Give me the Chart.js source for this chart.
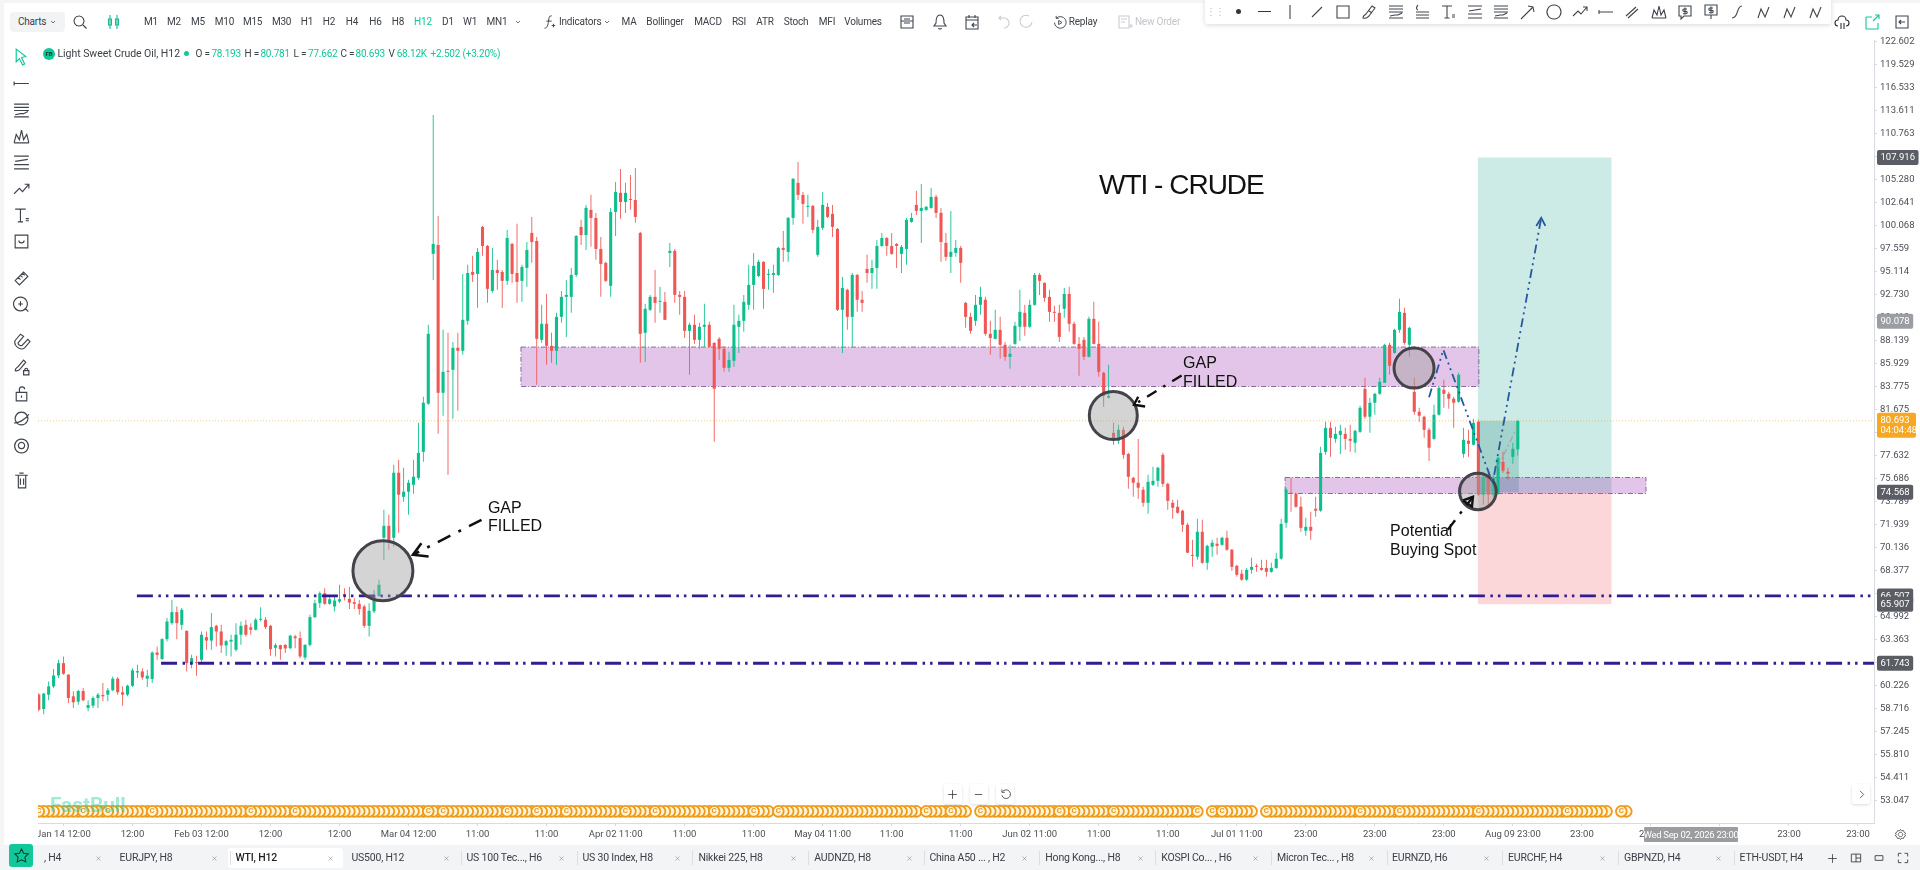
<!DOCTYPE html>
<html>
<head>
<meta charset="utf-8">
<title>WTI - CRUDE</title>
<script src="https://cdn.jsdelivr.net/npm/chart.js@4"></script>
<style>
html, body { margin: 0; padding: 0; width: 1920px; height: 870px; overflow: hidden; background: #f5f5f6; font-family: Roboto, sans-serif; color: #3c4048; }
#stage { position: absolute; left: 4px; top: 3px; width: 1916px; height: 867px; background: #fff; }
#chart { position: absolute; left: 0; top: 0; z-index: 1; }
.panel { position: absolute; z-index: 2; }
.t { position: absolute; z-index: 5; white-space: nowrap; font-size: 10px; letter-spacing: -.2px; transform: translate(-50%, -50%); line-height: 1; }
.l { transform: translate(0, -50%); }
.i { position: absolute; z-index: 5; fill: none; stroke: #3f444c; stroke-width: 1.1; }
</style>
</head>
<body>
<div id="stage"></div>
<canvas id="chart" width="1920" height="870"></canvas>
<script>
"use strict";

// candles, index 0 is the first one at the left edge
const opens = [
    59.64, 58.70, 59.64, 60.19, 60.92, 61.75, 60.97, 59.53, 59.18, 59.88,
    58.77, 58.92, 59.42, 59.62, 59.64, 59.93, 60.70, 59.80, 59.64, 60.23,
    61.12, 61.19, 60.70, 60.68, 62.48, 62.03, 63.41, 64.54, 65.33, 64.42,
    64.00, 61.68, 61.79, 61.98, 63.55, 63.31, 64.35, 63.95, 62.97, 63.24,
    62.67, 63.72, 64.42, 64.24, 64.07, 64.78, 64.78, 64.35, 62.81, 62.99,
    63.01, 62.78, 63.60, 63.48, 62.14, 63.01, 64.97, 65.98, 66.71, 65.93,
    65.74, 66.10, 66.66, 66.29, 66.05, 65.93, 65.74, 64.35, 65.38, 66.51,
    70.92, 71.86, 70.92, 76.20, 74.20, 74.62, 75.19, 75.77, 77.98, 82.23,
    97.03, 97.99, 83.23, 85.27, 85.37, 87.47, 87.18, 90.11, 95.11, 94.9,
    99.96, 97.88, 93.14, 95.32, 95.11, 94.18, 98.1, 95.0, 94.18, 95.53,
    99.3, 98.42, 88.24, 89.82, 87.66, 87.18, 90.51, 92.53, 92.53, 94.8,
    99.96, 99.07, 101.86, 100.96, 97.56, 96.07, 93.66, 101.63, 103.79, 102.75,
    103.1, 102.98, 99.3, 88.93, 91.22, 92.53, 92.02, 92.02, 97.13, 97.35,
    92.73, 92.53, 89.12, 89.72, 88.24, 89.52, 89.72, 87.95, 88.34, 87.37,
    85.56, 86.22, 89.52, 90.11, 91.72, 93.76, 94.69, 96.18, 94.8, 94.8,
    94.8, 97.67, 97.24, 100.96, 104.94, 103.56, 102.2, 102.31, 96.93, 99.85,
    102.2, 101.41, 99.74, 91.22, 93.25, 90.51, 94.8, 92.23, 95.43, 95.0,
    95.53, 97.88, 98.74, 97.88, 98.1, 97.03, 97.56, 100.52, 102.42, 101.74,
    101.86, 102.08, 103.33, 101.52, 98.21, 96.71, 97.13, 97.67, 91.92, 90.51,
    90.11, 91.72, 92.23, 88.83, 88.34, 89.22, 87.76, 86.6, 87.85, 89.52,
    90.91, 89.52, 91.72, 94.8, 93.97, 92.53, 91.01, 90.91, 91.32, 92.83,
    89.82, 87.85, 88.24, 86.6, 90.31, 87.85, 85.09, 82.78, 79.63, 78.94,
    79.9, 77.8, 75.77, 75.36, 74.78, 73.71, 75.19, 75.52, 77.72, 75.27,
    73.71, 73.39, 73.07, 71.94, 69.6, 69.45, 71.39, 68.99, 70.22, 70.45,
    70.37, 70.92, 69.99, 68.76, 68.16, 67.71, 68.45, 68.76, 68.6, 68.6,
    68.3, 68.6, 69.3, 72.1, 74.53, 74.45, 73.39, 71.47, 71.78, 73.23,
    73.07, 77.98, 80.07, 79.1, 79.45, 79.54, 79.1, 78.76, 79.72, 83.6,
    81.06, 82.32, 83.14, 84.15, 87.76, 86.98, 89.22, 90.91, 87.76, 83.32,
    81.5, 81.06, 79.9, 79.1, 81.24, 83.51, 83.14, 82.69, 82.41, 77.8,
    78.94, 78.59, 80.61, 74.37, 75.86, 74.37, 74.45, 77.12, 76.28, 77.55,
    78.193
];
const highs = [
    59.75, 59.75, 60.52, 61.35, 61.98, 62.21, 61.0, 59.86, 59.97, 60.08,
    59.27, 59.53, 59.75, 60.41, 60.08, 60.85, 60.81, 60.19, 60.30, 61.41,
    61.64, 61.41, 61.30, 62.55, 62.90, 63.48, 64.90, 66.22, 65.74, 65.62,
    64.00, 62.32, 62.25, 63.95, 63.95, 65.26, 64.42, 64.42, 63.36, 63.72,
    64.54, 64.66, 64.78, 64.54, 64.90, 65.69, 64.97, 64.42, 63.13, 63.01,
    63.05, 63.72, 63.72, 63.95, 63.05, 65.14, 66.22, 66.83, 67.08, 66.46,
    66.59, 67.33, 67.08, 67.16, 66.34, 66.22, 65.86, 65.98, 66.96, 67.71,
    73.15, 72.74, 76.87, 77.29, 76.62, 75.61, 77.29, 80.52, 82.87, 89.72,
    113.1, 101.18, 89.22, 88.93, 88.04, 88.93, 94.90, 95.86, 96.82, 97.67,
    100.07, 97.99, 97.67, 96.39, 95.32, 99.63, 98.21, 100.3, 95.86, 98.31,
    101.07, 98.85, 91.72, 92.83, 88.93, 90.91, 93.14, 94.28, 95.53, 99.07,
    100.74, 102.42, 103.56, 101.52, 98.85, 96.18, 102.08, 105.05, 106.57, 104.94,
    105.86, 106.68, 99.4, 91.82, 92.73, 95.32, 93.56, 93.04, 98.21, 97.56,
    93.14, 93.14, 89.92, 90.71, 89.92, 91.82, 90.01, 88.0, 88.53, 87.56,
    87.08, 91.72, 90.71, 92.73, 95.86, 97.13, 96.39, 96.25, 95.43, 95.86,
    97.78, 99.52, 101.07, 105.51, 107.4, 103.9, 103.56, 102.42, 100.74, 103.9,
    102.64, 102.42, 99.85, 94.59, 93.35, 95.0, 94.9, 93.14, 96.93, 96.39,
    98.53, 99.3, 98.85, 99.3, 98.21, 97.99, 100.96, 101.52, 104.02, 104.82,
    102.3, 104.36, 103.56, 102.08, 99.3, 101.74, 98.53, 97.88, 92.0, 90.91,
    92.73, 93.56, 92.53, 90.11, 91.22, 90.51, 88.04, 87.76, 90.01, 93.25,
    91.72, 92.23, 95.0, 95.0, 94.0, 93.25, 91.62, 91.72, 93.45, 93.56,
    90.01, 88.53, 88.53, 90.51, 92.02, 90.01, 85.18, 85.84, 80.52, 80.34,
    80.16, 77.89, 75.86, 79.1, 75.03, 76.03, 76.7, 76.7, 77.89, 75.36,
    73.95, 73.95, 73.15, 72.1, 70.76, 72.42, 72.34, 70.37, 70.76, 70.92,
    71.0, 71.47, 70.05, 68.84, 68.45, 68.6, 69.37, 68.91, 69.22, 69.22,
    68.99, 69.76, 72.42, 74.95, 75.77, 74.53, 74.2, 72.5, 72.98, 74.2,
    78.41, 80.61, 80.61, 80.16, 80.34, 80.07, 80.34, 79.9, 82.05, 84.62,
    82.78, 83.23, 84.62, 87.85, 87.95, 89.32, 92.33, 91.42, 89.52, 84.62,
    81.86, 81.15, 80.07, 82.14, 83.78, 84.43, 83.32, 82.87, 85.09, 80.07,
    79.9, 80.88, 80.79, 76.28, 76.2, 75.94, 77.55, 77.98, 76.62, 78.76,
    80.781
];
const lows = [
    58.55, 58.37, 59.27, 60.08, 60.74, 60.97, 59.09, 58.77, 58.98, 59.20,
    58.55, 58.77, 58.77, 59.20, 59.20, 59.86, 59.64, 58.92, 59.53, 60.15,
    60.74, 60.63, 60.15, 60.41, 61.98, 61.98, 63.24, 64.42, 63.41, 64.07,
    61.19, 61.41, 60.90, 61.75, 62.67, 62.67, 62.90, 62.44, 62.25, 62.21,
    62.55, 63.01, 63.60, 63.72, 64.02, 64.66, 64.12, 62.25, 62.21, 61.98,
    62.44, 62.71, 62.78, 62.09, 61.98, 62.90, 64.90, 65.62, 65.86, 65.86,
    65.38, 65.98, 66.17, 65.55, 65.55, 65.14, 64.19, 63.60, 65.26, 66.46,
    69.22, 69.99, 70.22, 71.31, 73.79, 72.74, 74.45, 75.61, 77.12, 82.14,
    94.28, 79.54, 81.15, 76.03, 80.88, 81.59, 86.79, 89.72, 94.07, 91.42,
    96.82, 91.92, 92.94, 93.25, 91.42, 93.76, 93.97, 91.92, 92.02, 93.56,
    96.07, 83.97, 87.95, 85.84, 86.03, 85.84, 89.92, 88.53, 90.91, 94.59,
    97.99, 97.45, 97.78, 96.39, 92.53, 94.07, 92.53, 98.96, 100.85, 101.52,
    101.86, 100.41, 86.03, 86.12, 91.1, 89.92, 90.91, 90.21, 95.64, 91.92,
    90.71, 88.43, 84.90, 87.85, 87.37, 87.56, 87.5, 78.85, 86.31, 85.18,
    85.18, 85.65, 86.98, 89.03, 91.22, 91.22, 94.59, 91.32, 93.25, 92.94,
    94.69, 96.18, 96.18, 100.19, 102.98, 100.3, 101.07, 99.3, 96.71, 99.63,
    100.96, 98.85, 91.1, 86.98, 89.22, 87.56, 91.01, 91.01, 93.97, 93.35,
    93.35, 97.78, 96.82, 96.93, 95.53, 95.0, 95.86, 100.41, 101.29, 98.21,
    101.74, 101.97, 100.96, 96.18, 96.29, 95.0, 96.71, 93.97, 89.42, 88.83,
    89.62, 90.71, 88.63, 86.79, 88.3, 86.41, 86.22, 85.46, 87.76, 88.14,
    88.63, 89.42, 91.62, 92.73, 92.02, 90.01, 90.01, 88.04, 90.41, 89.03,
    87.76, 84.81, 86.31, 86.55, 87.8, 84.71, 81.95, 82.7, 78.59, 78.67,
    77.38, 74.87, 74.2, 74.04, 73.39, 72.82, 75.1, 75.03, 75.03, 73.15,
    72.42, 72.82, 71.39, 69.72, 68.68, 69.22, 68.91, 68.45, 69.45, 69.6,
    70.29, 69.91, 68.38, 67.93, 67.63, 67.63, 68.16, 68.3, 68.38, 67.93,
    68.23, 68.53, 69.22, 71.7, 72.98, 73.31, 71.39, 71.08, 70.76, 72.58,
    72.98, 77.72, 77.55, 78.76, 77.8, 78.15, 77.98, 77.89, 79.63, 80.88,
    79.63, 81.24, 83.05, 84.15, 84.9, 86.89, 88.93, 87.76, 86.6, 81.24,
    80.61, 79.19, 77.2, 79.02, 81.15, 81.86, 81.77, 80.07, 82.32, 77.46,
    77.55, 78.55, 74.29, 73.55, 73.31, 74.2, 74.37, 76.2, 75.61, 76.95,
    77.662
];
const closes = [
    58.66, 59.71, 60.19, 60.92, 61.75, 61.03, 59.42, 59.14, 59.88, 59.27,
    58.96, 59.42, 59.64, 59.53, 59.93, 60.70, 59.80, 59.64, 60.23, 61.26,
    61.21, 60.79, 60.90, 62.48, 62.32, 63.41, 64.66, 65.33, 64.54, 65.50,
    61.75, 62.09, 61.75, 63.72, 63.31, 64.26, 63.95, 62.97, 63.27, 63.36,
    63.72, 64.35, 63.72, 64.07, 64.78, 64.83, 64.26, 62.71, 62.99, 62.71,
    62.76, 63.65, 63.48, 62.21, 63.01, 64.97, 65.98, 66.71, 65.93, 66.27,
    66.17, 66.27, 66.51, 66.02, 65.93, 65.55, 64.35, 65.43, 66.59, 67.33,
    71.86, 70.76, 76.20, 74.37, 74.62, 75.36, 75.86, 77.89, 82.32, 88.83,
    98.1, 83.23, 85.18, 85.18, 87.47, 87.18, 90.21, 95.0, 94.8, 97.24,
    97.88, 93.35, 95.32, 95.0, 94.18, 98.74, 94.9, 94.07, 95.64, 97.45,
    98.31, 88.34, 89.82, 87.66, 87.18, 90.51, 92.53, 92.73, 94.8, 98.96,
    99.07, 102.08, 100.96, 97.56, 95.96, 94.18, 101.63, 103.9, 102.75, 103.79,
    102.98, 101.07, 88.83, 91.32, 92.53, 91.92, 92.12, 90.21, 97.35, 92.73,
    92.53, 89.12, 89.72, 88.24, 89.52, 89.72, 87.56, 83.6, 87.37, 85.56,
    86.31, 89.72, 90.11, 92.02, 93.76, 95.75, 96.18, 93.35, 94.9, 95.0,
    97.67, 97.45, 100.96, 105.4, 103.56, 102.53, 102.31, 99.63, 99.96, 102.42,
    101.07, 99.96, 91.22, 93.45, 90.51, 94.8, 92.23, 91.92, 95.0, 95.53,
    97.88, 98.74, 97.88, 97.03, 97.88, 97.78, 100.74, 100.96, 101.74, 102.08,
    102.2, 103.33, 101.52, 98.31, 96.71, 97.24, 97.67, 96.07, 90.51, 89.12,
    91.72, 92.53, 88.83, 88.43, 89.22, 87.76, 86.6, 86.89, 89.62, 91.01,
    89.52, 91.72, 94.8, 94.18, 92.43, 91.01, 90.91, 88.53, 92.83, 89.82,
    87.85, 87.37, 86.6, 90.31, 87.85, 85.18, 82.96, 82.96, 79.02, 79.9,
    77.72, 75.86, 75.36, 74.95, 73.71, 75.44, 75.52, 76.62, 75.27, 73.87,
    73.31, 72.9, 71.94, 69.76, 69.52, 71.39, 68.99, 70.29, 70.53, 70.29,
    70.92, 69.99, 68.68, 68.08, 67.71, 68.45, 68.68, 68.68, 68.45, 68.3,
    68.6, 69.3, 72.02, 74.78, 74.45, 73.39, 71.7, 71.78, 71.47, 73.07,
    77.89, 80.07, 79.19, 79.54, 79.81, 79.1, 78.94, 79.81, 81.86, 81.06,
    82.32, 83.14, 84.25, 87.76, 85.75, 89.22, 91.01, 87.95, 89.42, 81.5,
    81.15, 79.9, 78.33, 81.24, 83.69, 83.14, 82.69, 82.32, 84.9, 79.02,
    78.67, 80.52, 74.37, 75.86, 74.37, 75.77, 77.46, 76.37, 76.12, 78.24,
    80.693
];

// axes
const yTicks = [122.602, 119.529, 116.533, 113.611, 110.763, 107.99, 105.280, 102.641, 100.068, 97.559, 95.114, 92.730, 90.41, 88.139, 85.929, 83.775, 81.675, 79.63, 77.632, 75.686, 73.789, 71.939, 70.136, 68.377, 66.66, 64.992, 63.363, 61.77, 60.226, 58.716, 57.245, 55.810, 54.411, 53.047];
const xTickIdx = [5, 19, 33, 47, 61, 75, 89, 103, 117, 131, 145, 159, 173, 187, 201, 215, 229, 243, 257, 271, 285, 299, 313, 327, 341, 355, 369];
const xTickLabels = ["Jan 14 12:00", "12:00", "Feb 03 12:00", "12:00", "12:00", "Mar 04 12:00", "11:00", "11:00", "Apr 02 11:00", "11:00", "11:00", "May 04 11:00", "11:00", "11:00", "Jun 02 11:00", "11:00", "11:00", "Jul 01 11:00", "23:00", "23:00", "23:00", "Aug 09 23:00", "23:00", "23:00", "23:00", "23:00", "23:00"];

// drawings, all in candle index / price
const zoneFrom = [97.8, 252.8];
const zoneTo = [292.1, 326];
const zoneTop = [87.54, 75.8];
const zoneBottom = [83.81, 74.47];
const targetPrice = 107.916;
const entryPrice = 74.568;
const stopPrice = 65.907;
const lastPrice = 80.693;
const positionFrom = 291.9;
const positionTo = 319;
const positionNow = 300;
const levelPrices = [66.507, 61.743];
const levelStarts = [19.9, 24.8];
const circleIdx = [69.8, 217.95, 278.95, 291.9];
const circlePrices = [68.38, 81.17, 85.53, 74.64];
const gapArrow1X = [89.8, 75.9];
const gapArrow1Y = [72.34, 69.6];
const gapHead1X = [77.6, 75.9, 79.07];
const gapHead1Y = [70.5, 69.6, 69.47];
const gapArrow2X = [231.8, 222.15];
const gapArrow2Y = [84.84, 82.14];
const gapHead2X = [223.0, 222.15, 224.4];
const gapHead2Y = [82.87, 82.14, 81.98];
const buyArrowX = [285.8, 290.9];
const buyArrowY = [71.55, 74.2];
const buyHeadX = [288.9, 290.9, 290.7, 288.9];
const buyHeadY = [73.9, 74.2, 73.4, 73.9];
const pathX = [282, 284.9, 294.9, 304.75];
const pathY = [82.83, 87.27, 75.33, 100.96];
const pathHeadX = [303.75, 304.75, 305.6];
const pathHeadY = [100.07, 100.96, 100.07];
const greyX = [294.7, 299.8];
const greyY = [75.61, 80.07];
const noteTexts = ["WTI - CRUDE", "GAP", "FILLED", "GAP", "FILLED", "Potential", "Buying Spot"];
const noteIdx = [215.05, 91.1, 91.1, 232.1, 232.1, 274.1, 274.1];
const notePrices = [104.59, 73.23, 71.78, 85.93, 84.18, 71.39, 69.91];
const tagPrices = [107.916, 90.078, 66.507, 65.907, 61.743, 74.568];
const tagColors = ["#5a5d63", "#9a9da2", "#5a5d63", "#5a5d63", "#5a5d63", "#5a5d63"];

// calendar events row, runs of candle indexes
const eventRuns = [[0, 8], [9, 13], [14, 22], [23, 42], [43, 51], [52, 78], [79, 81], [82, 94], [95, 100], [101, 106], [107, 118], [119, 124], [125, 136], [137, 144], [145, 148], [150, 178], [180, 184], [185, 188], [191, 206], [207, 209], [210, 217], [218, 234], [235, 235], [238, 239], [240, 246], [249, 267], [268, 275], [276, 291], [292, 309], [310, 318], [321, 322]];
const eventPrice = 52.43;

const xMin = -0.162;
const xMax = 372.25;
const yMin = 51.76;
const yMax = 122.87;

const UP = "#0dbf8c";
const DOWN = "#ef5654";
const candleIdx = opens.map((_, i) => i);
const candleColors = candleIdx.map(i => closes[i] >= opens[i] ? UP : DOWN);

const pairs = (xs, ys) => xs.map((x, i) => ({x: x, y: ys[i]}));

function pathSet(xs, ys, color, width, dash, order) {
    return {
        type: 'line',
        data: pairs(xs, ys),
        borderColor: color,
        borderWidth: width,
        borderDash: dash,
        pointRadius: 0,
        tension: 0,
        fill: false,
        order: order
    };
}

let eventPoints = [];
eventRuns.forEach(run => {
    for (let i = run[1]; i >= run[0]; i--) {
        eventPoints.push({x: i, y: eventPrice});
    }
});

const drawings = {
    id: 'drawings',
    beforeDatasetsDraw(chart) {
        const {ctx, chartArea: a, scales: {x, y}} = chart;
        const box = (x0, x1, top, bottom, color) => {
            ctx.fillStyle = color;
            ctx.fillRect(x.getPixelForValue(x0), y.getPixelForValue(top), x.getPixelForValue(x1) - x.getPixelForValue(x0), y.getPixelForValue(bottom) - y.getPixelForValue(top));
        };
        ctx.save();
        ctx.beginPath();
        ctx.rect(a.left, a.top, a.right - a.left, a.bottom - a.top);
        ctx.clip();
        box(positionFrom, positionTo, targetPrice, entryPrice, "rgba(0,150,130,0.2)");
        box(positionFrom, positionTo, entryPrice, stopPrice, "rgba(242,54,69,0.2)");
        box(positionFrom, positionNow + 0.2, lastPrice, entryPrice, "rgba(0,110,100,0.2)");
        zoneFrom.forEach((from, i) => {
            box(from, zoneTo[i], zoneTop[i], zoneBottom[i], "rgba(156,39,176,0.27)");
            ctx.strokeStyle = "#8a6a9c";
            ctx.lineWidth = 1;
            ctx.setLineDash([5, 2, 1, 2]);
            ctx.strokeRect(x.getPixelForValue(from), y.getPixelForValue(zoneTop[i]), x.getPixelForValue(zoneTo[i]) - x.getPixelForValue(from), y.getPixelForValue(zoneBottom[i]) - y.getPixelForValue(zoneTop[i]));
        });
        ctx.restore();
    },
    afterDatasetsDraw(chart) {
        const {ctx, scales: {x, y}} = chart;
        ctx.save();
        ctx.textBaseline = "middle";
        // the C on the first circle of each run
        ctx.fillStyle = "#ee9a1a";
        ctx.font = "bold 8px Roboto";
        ctx.textAlign = "center";
        eventRuns.forEach(run => ctx.fillText("C", x.getPixelForValue(run[0]), y.getPixelForValue(eventPrice)));
        ctx.textAlign = "left";
        ctx.fillStyle = "#111";
        noteTexts.forEach((text, i) => {
            ctx.font = (i === 0 ? 28 : 16) + 'px "Liberation Sans"';
            ctx.letterSpacing = i === 0 ? "-1px" : "0px";
            ctx.fillText(text, x.getPixelForValue(noteIdx[i]), y.getPixelForValue(notePrices[i]));
        });
        ctx.restore();
    },
    afterDraw(chart) {
        const {ctx, scales: {y}} = chart;
        ctx.save();
        ctx.font = "9.5px Roboto";
        ctx.textBaseline = "middle";
        tagPrices.forEach((p, i) => {
            const py = y.getPixelForValue(p);
            const label = p.toFixed(3);
            ctx.fillStyle = tagColors[i];
            ctx.beginPath();
            ctx.roundRect(1877, py - 7.5, ctx.measureText(label).width + 7, 15, 2);
            ctx.fill();
            ctx.fillStyle = "#fff";
            ctx.fillText(label, 1880.5, py + 0.5);
        });
        const py = y.getPixelForValue(lastPrice);
        ctx.fillStyle = "#f7a823";
        ctx.beginPath();
        ctx.roundRect(1877, py - 8, 39, 25, 2);
        ctx.fill();
        ctx.fillStyle = "#fff";
        ctx.fillText(lastPrice.toFixed(3), 1880.5, py);
        ctx.fillText("04:04:48", 1880.5, py + 10);
        ctx.restore();
    }
};

new Chart(document.getElementById('chart'), {
    type: 'bar',
    plugins: [drawings],
    data: {
        datasets: [
            {
                type: 'bar',
                data: candleIdx.map(i => ({x: i, y: [lows[i], highs[i]]})),
                backgroundColor: candleColors,
                barPercentage: 0.22,
                grouped: false,
                order: 9
            },
            {
                type: 'bar',
                data: candleIdx.map(i => ({x: i, y: [opens[i], closes[i]]})),
                backgroundColor: candleColors,
                barPercentage: 0.78,
                minBarLength: 1,
                grouped: false,
                order: 8
            },
            {
                type: 'line',
                data: eventPoints,
                showLine: false,
                pointRadius: 5.4,
                pointBackgroundColor: "#fff4d6",
                pointBorderColor: "#ee9a1a",
                pointBorderWidth: 1.8,
                clip: false,
                order: 10
            },
            pathSet([xMin, xMax], [lastPrice, lastPrice], "rgba(240,170,60,0.65)", 1, [1, 2], 7),
            pathSet([levelStarts[0], xMax], [levelPrices[0], levelPrices[0]], "#2f1d92", 2.8, [16, 5.5, 2.5, 5, 2.5, 5.5], 6),
            pathSet([levelStarts[1], xMax], [levelPrices[1], levelPrices[1]], "#2f1d92", 2.8, [16, 5.5, 2.5, 5, 2.5, 5.5], 6),
            {
                type: 'line',
                data: pairs(circleIdx, circlePrices),
                showLine: false,
                pointRadius: [30, 24, 20, 18.3],
                pointBackgroundColor: "rgba(160,160,160,0.45)",
                pointBorderColor: "#45434a",
                pointBorderWidth: 3,
                order: 5
            },
            pathSet(greyX, greyY, "rgba(150,160,165,0.75)", 1.4, [6, 3, 2, 3], 4),
            pathSet(pathX, pathY, "#27579f", 1.8, [9, 4, 2, 4, 2, 4], 3),
            pathSet(pathHeadX, pathHeadY, "#27579f", 1.8, [], 3),
            pathSet(gapArrow1X, gapArrow1Y, "#111", 2.6, [14, 9, 3, 9], 2),
            pathSet(gapHead1X, gapHead1Y, "#111", 2.6, [], 2),
            pathSet(gapArrow2X, gapArrow2Y, "#111", 2.4, [11, 8, 2.5, 8], 2),
            pathSet(gapHead2X, gapHead2Y, "#111", 2.4, [], 2),
            pathSet(buyArrowX, buyArrowY, "#111", 2.4, [12, 8, 3, 8], 2),
            pathSet(buyHeadX, buyHeadY, "#111", 2.4, [], 2)
        ]
    },
    options: {
        responsive: false,
        animation: false,
        devicePixelRatio: 1,
        layout: {padding: {left: 38, top: 40, right: 0, bottom: 0}},
        plugins: {legend: {display: false}, tooltip: {enabled: false}},
        scales: {
            x: {
                type: 'linear',
                offset: false,
                min: xMin,
                max: xMax,
                grid: {offset: false, drawOnChartArea: false, tickLength: 3, tickColor: "#d9dbe0"},
                border: {color: "#d9dbe0"},
                afterBuildTicks: scale => { scale.ticks = xTickIdx.map(v => ({value: v})); },
                afterFit: scale => { scale.height = 47; },
                ticks: {
                    autoSkip: false,
                    maxRotation: 0,
                    padding: 3,
                    color: "#4a4f57",
                    font: {family: "Roboto", size: 9.5},
                    callback: (v, i) => xTickLabels[i]
                }
            },
            y: {
                type: 'logarithmic',
                position: 'right',
                min: yMin,
                max: yMax,
                bounds: 'data',
                beginAtZero: false,
                grid: {drawOnChartArea: false, tickLength: 3, tickColor: "#d9dbe0"},
                border: {color: "#d9dbe0"},
                afterBuildTicks: scale => { scale.ticks = yTicks.map(v => ({value: v})); },
                afterFit: scale => { scale.width = 46; },
                ticks: {
                    autoSkip: false,
                    padding: 3,
                    color: "#4a4f57",
                    font: {family: "Roboto", size: 9.5},
                    callback: v => v.toFixed(3)
                }
            }
        }
    }
});

// ---- application chrome around the chart ----

const ICONS = {
    search: "M8 3a5 5 0 1 0 .01 0M12 12l3.5 3.5",
    candles: "M5 2v14M3.5 6h3v6h-3zM12 2v14M10.5 6h3v6h-3z",
    chev: "M6 7.5l3 3 3-3",
    chevR: "M7 4l5 5-5 5",
    line: "M4 14L14 4",
    vline: "M9 2v14",
    hline: "M2 9h14M2 7v4",
    rect: "M3 3h12v12H3z",
    brush: "M3 15c0-3 2-3 3-4l6-8 3 2-6 8c-1 1-2 3-6 2zM9 8l3 2",
    fib: "M2 3h14M2 6h14M2 9h14M3 13l5-1 3 0 4-2M2 15h14",
    fib2: "M5 2c-2 2-2 4 0 5M3 9h13M3 12h13M3 15h13",
    fib3: "M2 3h14M3 8l12-2M2 11h14M2 15h14",
    text: "M3 3h10M8 3v12M5.5 15h5M13 12h3M13 14h3",
    arrow: "M3 16L15 4M10 3l5 1 1 5",
    circle: "M9 2a7 7 0 1 0 .01 0",
    zig: "M2 13l5-5 3 3 6-7M12 4h4v4",
    channel: "M3 13L13 4M5 15L15 6",
    peaks: "M2 15l2-8 3 5 2-9 2 9 3-5 2 8M2 15h14",
    bubble: "M3 3h12v10H8l-3 3v-3H3zM9 4.5v7M11 6H8a1 1 0 0 0 0 2.4h2a1 1 0 0 1 0 2.4H7",
    pin: "M3 2h12v10H3zM9 12v4M9 3.5v7M11 5H8a1 1 0 0 0 0 2.4h2a1 1 0 0 1 0 2.4H7",
    curve: "M14 3C8 3 11 15 4 15",
    wave: "M3 15l3-9 4 8 4-10",
    cloud: "M5 13a3 3 0 0 1 0-6 4 4 0 0 1 8 0 3 3 0 0 1 0 6M8 10v6M11 10v6",
    share: "M3 4h6M3 4v12h12v-6M10 8l6-6M12 2h4v4",
    panel: "M3 3h12v12H3zM12 9H6M8 7L6 9l2 2",
    layout: "M3 3h12v5H3zM3 8h12v7H3zM6 10h6M6 6h6",
    bell: "M9 2c-3 0-4 3-4 8l-2 3h12l-2-3c0-5-1-8-4-8zM7.5 15a1.6 1.6 0 0 0 3 0",
    calendar: "M3 4h12v12H3zM3 7h12M6 2v3M12 2v3M14 12h-5M11 10l-2 2 2 2",
    undo: "M6 3L4 5l2 2M4 5h5a5 5 0 0 1 0 10",
    redo: "M12 3a6 6 0 1 0 3 6",
    replay: "M5 4a7 7 0 1 1-2 5M5 1v3h3M8 6.5l4 2.5-4 2.5z",
    order: "M3 3h10v12H3zM5 6h6M5 9h4M13 13h4M15 11v4",
    fx: "M12 2c-3 0-3 2-3.5 6S7 16 4 16M6 8h6M12 13h4M14 11v4",
    ruler: "M3 11l8-8 4 4-8 8zM6 8l2 2M8 6l2 2M10 4l2 2",
    zoom: "M8 2a6.5 6.5 0 1 0 .01 0M12.8 13l2.7 2.7M8 6v4.6M5.8 8.5h4.6",
    magnet: "M3 9l5-6 3 2-5 6c-1 2 3 4 4 2l5-5 2 2-5 6c-4 3-11-2-9-7z",
    lockp: "M3 12c0-3 2-3 3-4l5-6 2 2-5 6c-1 1-2 3-5 2zM11 12h5v4h-5zM12 12c0-3 3-3 3 0",
    lock: "M4 8h10v8H4zM7 8V5c0-3 5-3 5 0M9 11v2",
    planet: "M9 3a6 6 0 1 0 .01 0M2 13c3 1 11-3 14-8",
    eye: "M9 3a6.5 6.5 0 1 0 .01 0M9 6a3 3 0 1 0 .01 0",
    trash: "M3 4h12M6 4v12h7V4M7 2h4M8 7v6M11 7v6",
    smile: "M3 3h12v12H3zM6.5 8c0 3 5 3 5 0",
    pointer: "M4 2l9 7-4 1 3 6-2 1-3-6-3 3z",
    plus: "M9 3v12M3 9h12",
    minus: "M4 9h10",
    reset: "M5 5a6 6 0 1 1-1 5M4 2v4h4",
    gear: "M9 6a3 3 0 1 0 .01 0M9 2l1.5 2 2.5-.5 1 2.3 2 1.2-1 2 1 2-2 1.2-1 2.3-2.5-.5L9 16l-1.5-2-2.5.5-1-2.3-2-1.2 1-2-1-2 2-1.2 1-2.3 2.5.5z",
    cross: "M5 5l8 8M13 5l-8 8",
    split: "M3 4h12v10H3zM9 4v10M9 9h6",
    frame: "M4 6h10v6H4z",
    full: "M3 7V3h4M11 3h4v4M15 11v4h-4M7 15H3v-4",
    star: "M9 2l2.2 4.6 5 .7-3.6 3.5.9 5L9 13.5l-4.5 2.300.9-5L1.800 7.300l5-.7z"
};

function addIcon(name, x, y, color, size) {
    const s = size || 18;
    const svg = document.createElementNS("http://www.w3.org/2000/svg", "svg");
    svg.setAttribute("viewBox", "0 0 18 18");
    svg.setAttribute("class", "i");
    svg.style.cssText = "left:" + (x - s / 2) + "px;top:" + (y - s / 2) + "px;width:" + s + "px;height:" + s + "px;" + (color ? "stroke:" + color + ";" : "");
    const p = document.createElementNS("http://www.w3.org/2000/svg", "path");
    p.setAttribute("d", ICONS[name]);
    svg.appendChild(p);
    document.body.appendChild(svg);
    return svg;
}

function addText(text, x, y, style, left) {
    const el = document.createElement("div");
    el.className = left ? "t l" : "t";
    el.textContent = text;
    el.style.left = x + "px";
    el.style.top = y + "px";
    if (style) el.style.cssText += style;
    document.body.appendChild(el);
    return el;
}

function addBox(x, y, w, h, style) {
    const el = document.createElement("div");
    el.className = "panel";
    el.style.cssText = "left:" + x + "px;top:" + y + "px;width:" + w + "px;height:" + h + "px;" + style;
    document.body.appendChild(el);
    return el;
}

// side and bottom panels cover the canvas
addBox(0, 0, 38, 845, "background:#fff;");
addBox(0, 0, 4, 870, "background:#f5f5f6;");
addBox(0, 0, 1920, 3, "background:#f5f5f6;");

// top toolbar
addBox(10, 12, 54.5, 20, "background:#f2f3f5;border-radius:4px;");
addText("Charts", 18, 22, "", true);
addIcon("chev", 53, 22, null, 12);
addIcon("search", 79.6, 22);
addIcon("candles", 114, 22, "#18b892");
const periods = ["M1", "M2", "M5", "M10", "M15", "M30", "H1", "H2", "H4", "H6", "H8", "H12", "D1", "W1", "MN1"];
const periodX = [151, 174, 198, 224.5, 252.6, 281.6, 307, 329, 352, 375.5, 398, 423, 448, 470, 497];
periods.forEach((p, i) => addText(p, periodX[i], 22, p === "H12" ? "color:#12c79a;" : ""));
addIcon("chev", 518, 22, null, 12);
addIcon("fx", 549, 22, null, 16);
addText("Indicators", 559, 22, "", true);
addIcon("chev", 607, 22, null, 12);
const studies = ["MA", "Bollinger", "MACD", "RSI", "ATR", "Stoch", "MFI", "Volumes"];
const studyX = [629, 665, 708, 739, 765, 796, 827, 863];
studies.forEach((p, i) => addText(p, studyX[i], 22));
addIcon("layout", 907, 22);
addIcon("bell", 940, 22);
addIcon("calendar", 972, 22);
addIcon("undo", 1004, 22, "#c9ccd1");
addIcon("redo", 1026, 22, "#c9ccd1");
addIcon("replay", 1059.6, 22, null, 15);
addText("Replay", 1083, 22);
addIcon("order", 1125, 22, "#c9ccd1");
addText("New Order", 1157.5, 22, "color:#c2c5ca;");

// floating drawing toolbar
addBox(1205, 0, 626, 24, "background:#fff;box-shadow:0 1px 5px rgba(0,0,0,.16);z-index:4;border-radius:0 0 3px 3px;");
addText("⋮⋮", 1215.5, 12, "color:#b5b8bd;font-size:10px;");
addBox(1236, 9, 5, 5, "background:#33373d;border-radius:50%;z-index:5;");
addBox(1258, 11, 13, 1.4, "background:#33373d;z-index:5;");
const drawTools = ["vline", "line", "rect", "brush", "fib", "fib2", "text", "fib3", "fib", "arrow", "circle", "zig", "hline", "channel", "peaks", "bubble", "pin", "curve", "wave", "wave", "wave"];
const drawToolX = [1290, 1316.7, 1343, 1369, 1395.5, 1422, 1448, 1474.7, 1501, 1527, 1553.5, 1580, 1605.7, 1632, 1658.8, 1685, 1711, 1737, 1763.7, 1790, 1816];
drawTools.forEach((name, i) => addIcon(name, drawToolX[i], 12));
addIcon("cloud", 1842.4, 22, "#2b3038");
addIcon("share", 1872, 22, "#12c79a");
addIcon("panel", 1902, 22);

// symbol line
addBox(43, 47.5, 12, 12, "background:#12c79a;border-radius:50%;z-index:5;");
addText("FB", 49, 53.5, "font-size:6px;font-weight:700;color:#0d3d33;letter-spacing:0;");
addText("Light Sweet Crude Oil, H12", 57.5, 53.5, "font-size:10.5px;letter-spacing:-.05px;", true);
addBox(183.5, 51, 5, 5, "background:#12c79a;border-radius:50%;z-index:5;");
const ohlcLabels = ["O =", "H =", "L =", "C =", "V"];
const ohlcLabelX = [195.5, 244.5, 293.5, 340.4, 388.6];
const ohlcValues = ["78.193", "80.781", "77.662", "80.693", "68.12K"];
const ohlcValueX = [211.4, 260.4, 308, 355.5, 396.7];
ohlcLabels.forEach((s, i) => addText(s, ohlcLabelX[i], 53.5, "", true));
ohlcValues.forEach((s, i) => addText(s, ohlcValueX[i], 53.5, "color:#12c79a;", true));
addText("+2.502 (+3.20%)", 430.6, 53.5, "color:#12c79a;", true);

// left drawing tools
const sideTools = ["pointer", "hline", "fib", "peaks", "fib3", "zig", "text", "smile", "ruler", "zoom", "magnet", "lockp", "lock", "planet", "eye", "trash"];
const sideToolY = [56.7, 83, 110, 136, 162, 189, 215, 241, 278, 304, 340, 367, 393, 418, 445, 480];
sideTools.forEach((name, i) => addIcon(name, 21, sideToolY[i], i === 0 ? "#12c79a" : null, 19));

// watermark and chart buttons
addText("FastBull", 50, 804.5, "font-size:21px;font-weight:700;letter-spacing:-.1px;color:rgba(30,205,160,.42);", true);
const zoomTools = ["plus", "minus", "reset"];
const zoomToolX = [952.6, 978.8, 1005];
zoomTools.forEach((name, i) => {
    addBox(zoomToolX[i] - 9, 784, 18, 20, "background:#fff;box-shadow:0 1px 3px rgba(0,0,0,.14);border-radius:2px;");
    addIcon(name, zoomToolX[i], 794, "#33373d", 13);
});
addBox(1852, 784, 18, 20, "background:#fff;box-shadow:0 1px 3px rgba(0,0,0,.14);border-radius:2px;");
addIcon("chevR", 1861, 794, null, 13);
addIcon("gear", 1900, 834, null, 13);
addBox(1644, 827, 94, 15, "background:#9b9da1;border-radius:1px;");
addText("Wed Sep 02, 2026 23:00", 1691, 834.5, "color:#fff;font-size:9.5px;letter-spacing:-.3px;");

// tabs
addBox(0, 845, 1920, 25, "background:#f3f4f6;");
addBox(228, 848, 115, 20, "background:#fff;border-radius:3px;");
addBox(9, 844, 24, 23, "background:#12c79a;border-radius:3px;");
addIcon("star", 21, 855.5, "#0b3a30", 17);
const tabNames = [", H4", "EURJPY, H8", "WTI, H12", "US500, H12", "US 100 Tec..., H6", "US 30 Index, H8", "Nikkei 225, H8", "AUDNZD, H8", "China A50 ... , H2", "Hong Kong..., H8", "KOSPI Co... , H6", "Micron Tec... , H8", "EURNZD, H6", "EURCHF, H4", "GBPNZD, H4", "ETH-USDT, H4"];
const tabX = [44, 119.6, 235.5, 351.4, 466.5, 582.4, 698.4, 814.3, 929.4, 1045.3, 1161.2, 1277, 1392, 1508, 1624, 1739.6];
tabNames.forEach((s, i) => {
    addText(s, tabX[i], 858, "font-size:10.5px;" + (s === "WTI, H12" ? "color:#1c1f24;font-weight:500;" : ""), true);
    if (i > 0 && i < 15) addIcon("cross", tabX[i] + 94.7, 858, "#7d8087", 9);
    if (i > 0 && i < 15 && i !== 2) addBox(tabX[i] + 110, 851, 1, 14, "background:#dcdee2;z-index:3;");
});
addIcon("cross", 98.5, 858, "#7d8087", 9);
addIcon("plus", 1832, 858, "#33373d", 13);
addIcon("split", 1855.5, 858, "#33373d", 14);
addIcon("frame", 1879, 858, "#33373d", 14);
addIcon("full", 1903, 858, "#33373d", 14);
</script>
</body>
</html>
